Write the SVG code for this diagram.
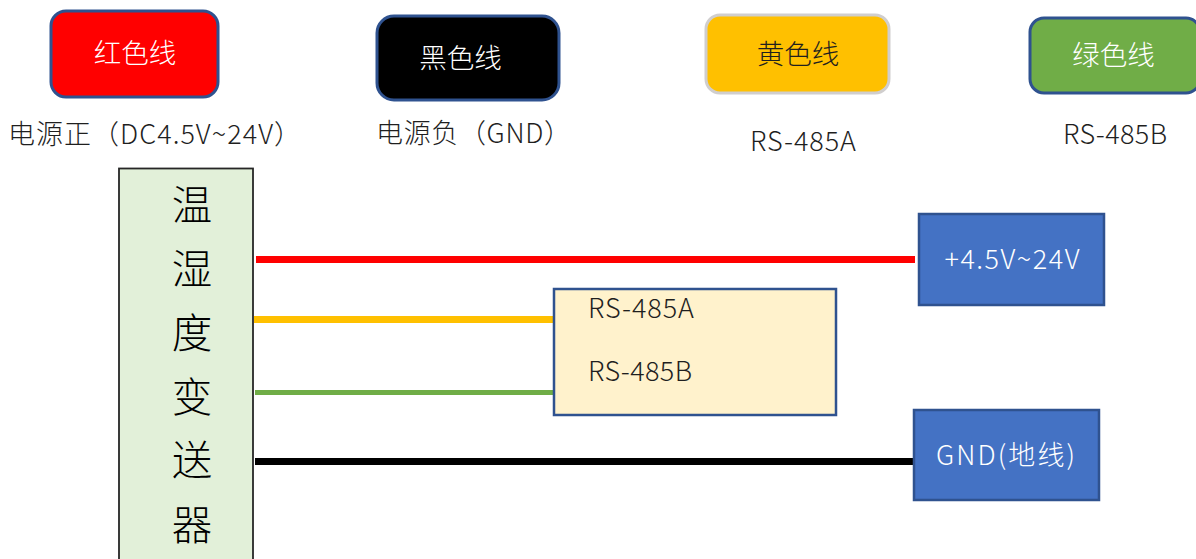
<svg xmlns="http://www.w3.org/2000/svg" width="1196" height="559" viewBox="0 0 1196 559">
<style>
text{font-family:"Noto Sans CJK SC","Noto Sans",sans-serif;font-size:27px;font-weight:300;fill:#1f1f1f;text-anchor:middle}
.w{fill:#fff}
.l{text-anchor:start}
.c{font-size:27.500px}
.pill{stroke:#2f528f;stroke-width:3}
.box{stroke:#2f528f;stroke-width:2.5}
.big{font-size:40.500px;fill:#000}
</style>
<rect width="1196" height="559" fill="#fff"/>
<g id="connectors" fill="none">
<line x1="256" y1="259.500" x2="915" y2="259.500" stroke="#ff0000" stroke-width="7"/>
<line x1="254" y1="319.500" x2="554" y2="319.500" stroke="#ffc000" stroke-width="7"/>
<line x1="255" y1="392.500" x2="554" y2="392.500" stroke="#70ad47" stroke-width="5"/>
<line x1="255" y1="461.500" x2="914" y2="461.500" stroke="#000" stroke-width="7"/>
</g>
<g id="red"><rect class="pill" x="51" y="11" width="167" height="86" rx="15" fill="#ff0000"/><text class="w c" x="135" y="63">红色线</text></g>
<g id="black"><rect class="pill" x="377" y="16" width="182" height="84" rx="17" fill="#000"/><text class="w c" x="460.500" y="68">黑色线</text></g>
<g id="yellow"><rect x="706" y="15" width="183" height="78" rx="14" fill="#ffc000" stroke="#d0cece" stroke-width="3"/><text class="c" x="798" y="64">黄色线</text></g>
<g id="green"><rect class="pill" x="1030" y="18" width="170" height="75" rx="14" fill="#70ad47"/><text class="w c" x="1113.500" y="65">绿色线</text></g>
<g id="label-red"><text class="l" x="8" y="144" textLength="293">电源正（DC4.5V~24V）</text></g>
<g id="label-black"><text class="l" x="376" y="143" textLength="195">电源负（GND）</text></g>
<g id="label-yellow"><text x="803" y="151" textLength="106">RS-485A</text></g>
<g id="label-green"><text x="1115" y="144" textLength="104">RS-485B</text></g>
<g id="sensor"><rect x="119" y="168.500" width="134" height="400" fill="#e2f0d9" stroke="#262626" stroke-width="1.800"/>
<text class="big" x="192" y="220">温</text><text class="big" x="192" y="284">湿</text><text class="big" x="192" y="348">度</text><text class="big" x="192" y="412">变</text><text class="big" x="192" y="475">送</text><text class="big" x="192" y="540">器</text></g>
<g id="power"><rect class="box" x="919" y="214" width="185" height="91" fill="#4472c4"/><text class="w" x="1012" y="269" textLength="135">+4.5V~24V</text></g>
<g id="rs485"><rect class="box" x="554" y="289" width="282" height="126" fill="#fff2cc"/><text class="l" x="588" y="318" textLength="106">RS-485A</text><text class="l" x="588" y="381" textLength="104">RS-485B</text></g>
<g id="gnd"><rect class="box" x="914" y="410" width="185" height="90" fill="#4472c4"/><text class="w" x="1005.500" y="465" textLength="139">GND(地线)</text></g>
</svg>
